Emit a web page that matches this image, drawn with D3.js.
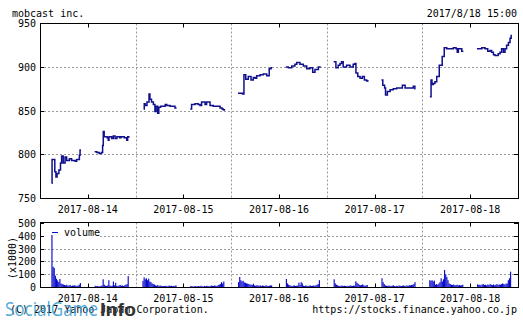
<!DOCTYPE html>
<html>
<head>
<meta charset="utf-8">
<script src="https://cdn.jsdelivr.net/npm/d3@7"></script>
<style>
body { margin: 0; background: #fff; }
text { font-family: "DejaVu Sans Mono", monospace; font-size: 10px; fill: #000; }
</style>
</head>
<body>
<svg id="chart" width="523" height="322"></svg>
<script>
// trading days and tick labels
const days = ["2017-08-14", "2017-08-15", "2017-08-16", "2017-08-17", "2017-08-18"];
const priceTicks = [750, 800, 850, 900, 950];
const volTicks = [0, 100, 200, 300, 400, 500];

// price, morning session per day [time, yen]
const priceAm = [
  [["09:21",767],["09:23",794],["09:35",780],["09:40",774],["09:45",778],["09:53",782],["10:00",790],["10:05",798],["10:12",790],["10:20",797],["10:27",793],["10:39",795],["10:49",793],["11:04",792],["11:11",794],["11:23",799],["11:26",805],["11:30",805]],
  [["09:05",852],["09:08",858],["09:12",856],["09:20",860],["09:29",869],["09:33",863],["09:40",860],["09:48",857],["09:55",849],["10:00",855],["10:07",847],["10:12",854],["10:20",855],["10:32",855],["10:40",857],["10:47",856],["11:01",855],["11:16",855],["11:23",853],["11:30",853]],
  [["09:00",870],["09:20",869],["09:26",891],["09:34",886],["09:45",889],["09:57",885],["10:07",888],["10:15",887],["10:22",890],["10:37",891],["10:51",892],["11:06",890],["11:17",898],["11:25",899],["11:30",899]],
  [["09:00",906],["09:10",899],["09:20",902],["09:28",904],["09:35",906],["09:42",900],["09:57",902],["10:12",900],["10:26",903],["10:34",904],["10:38",893],["10:46",889],["10:56",887],["11:06",889],["11:15",885],["11:25",884],["11:30",885]],
  [["09:03",866],["09:08",885],["09:12",880],["09:18",881],["09:25",883],["09:33",889],["09:44",902],["09:52",902],["09:57",912],["10:06",922],["10:17",921],["10:31",921],["10:46",922],["10:58",921],["11:03",917],["11:08",921],["11:23",918],["11:30",918]]
];
// price, afternoon session per day
const pricePm = [
  [["12:30",803],["12:40",802],["12:50",801],["13:00",802],["13:05",810],["13:08",826],["13:12",820],["13:25",819],["13:30",816],["13:33",820],["13:45",818],["13:52",821],["14:00",818],["14:08",820],["14:20",819],["14:26",820],["14:40",819],["14:51",816],["14:55",820],["15:00",819]],
  [["12:30",852],["12:36",857],["12:51",858],["13:05",857],["13:13",856],["13:20",860],["13:35",857],["13:42",860],["13:57",856],["14:11",855],["14:26",855],["14:41",853],["14:50",852],["14:55",851],["15:00",850]],
  [["12:30",900],["12:41",899],["12:56",901],["13:10",903],["13:18",905],["13:32",903],["13:47",901],["14:02",898],["14:16",899],["14:28",894],["14:38",897],["14:53",900],["15:00",899]],
  [["12:30",885],["12:36",879],["12:44",876],["12:48",868],["12:56",872],["13:08",874],["13:22",875],["13:37",876],["13:52",876],["14:02",879],["14:14",876],["14:36",876],["14:50",878],["14:57",875],["15:00",875]],
  [["12:30",921],["12:51",922],["13:05",921],["13:17",918],["13:27",919],["13:34",917],["13:42",914],["13:49",913],["14:03",915],["14:11",917],["14:18",921],["14:26",917],["14:33",921],["14:40",925],["14:48",928],["14:55",933],["15:00",937]]
];

// volume (x1000), 5 minute bars from 09:00 and from 12:30
const volAm = [
  [0,0,0,0,405,160,150,90,66,53,40,64,30,25,22,18,15,20,12,15,18,10,14,12,16,12,10,14,20,33],
  [50,77,62,70,55,67,45,40,30,25,22,15,12,18,10,14,12,10,8,10,12,8,10,14,10,12,8,10,12,15],
  [40,80,55,46,50,38,35,30,28,25,22,20,18,28,15,12,16,14,12,15,10,14,12,10,15,12,10,12,15,14],
  [62,30,20,15,12,10,12,14,10,12,10,8,12,10,15,12,10,14,12,47,35,28,20,15,18,23,15,12,14,18],
  [55,50,55,45,52,20,25,20,30,40,70,45,62,134,100,80,55,30,25,20,18,22,15,18,20,15,18,14,16,20]
];
const volPm = [
  [12,8,10,6,8,10,15,62,20,12,10,15,55,14,10,12,45,15,35,12,10,15,18,12,14,10,16,20,25,87],
  [10,8,6,8,10,6,8,10,8,12,8,6,10,8,12,10,8,10,14,12,10,15,12,10,18,20,25,40,30,45],
  [65,30,20,15,12,10,12,15,10,12,14,36,18,40,30,12,10,14,12,10,12,15,10,12,14,12,16,20,25,55],
  [70,40,25,15,12,10,14,12,10,12,15,10,8,12,10,14,12,10,12,15,10,12,14,12,16,14,18,20,25,40],
  [23,18,20,15,22,25,18,20,15,22,18,25,20,18,22,15,20,25,18,22,20,25,30,25,22,28,30,55,70,121]
];

const svg = d3.select("#chart");
const left = 40, right = 518;
const dayMin = 420; // each day drawn 08:30 - 15:30

function toMin(day, hm) {
  let p = hm.split(":");
  return day * dayMin + (+p[0] * 60 + +p[1]) - 510;
}

const x = d3.scaleLinear().domain([0, days.length * dayMin]).range([left, right]);
const y = d3.scaleLinear().domain([750, 950]).range([198, 23.3]);
const yv = d3.scaleLinear().domain([0, 500]).range([287.3, 222.7]);

function grid(top, bottom, yScale, ticks) {
  const g = svg.append("g");
  // dashed grid
  ticks.slice(1, -1).forEach(t => {
    g.append("line").attr("x1", left).attr("x2", right)
      .attr("y1", Math.round(yScale(t)) + 0.5).attr("y2", Math.round(yScale(t)) + 0.5)
      .attr("stroke", "#999").attr("stroke-dasharray", "2,2");
  });
  for (let d = 1; d < days.length; d++) {
    let xx = Math.round(x(d * dayMin)) + 0.5;
    g.append("line").attr("x1", xx).attr("x2", xx).attr("y1", top).attr("y2", bottom)
      .attr("stroke", "#999").attr("stroke-dasharray", "2,2");
  }
  // inner ticks
  days.forEach((d, i) => {
    let xx = Math.round(x(i * dayMin + 210)) + 0.5;
    g.append("line").attr("x1", xx).attr("x2", xx).attr("y1", top).attr("y2", top + 4).attr("stroke", "#000");
    g.append("line").attr("x1", xx).attr("x2", xx).attr("y1", bottom).attr("y2", bottom - 4).attr("stroke", "#000");
  });
  ticks.forEach(t => {
    let yy = Math.round(yScale(t)) + 0.5;
    g.append("line").attr("x1", left).attr("x2", left + 4).attr("y1", yy).attr("y2", yy).attr("stroke", "#000");
    g.append("line").attr("x1", right).attr("x2", right - 4).attr("y1", yy).attr("y2", yy).attr("stroke", "#000");
    g.append("text").attr("x", 36).attr("y", yScale(t) + 4).attr("text-anchor", "end").text(t);
  });
  // date labels
  days.forEach((d, i) => {
    g.append("text").attr("x", x(i * dayMin + 210)).attr("y", bottom + 14)
      .attr("text-anchor", "middle").text(d);
  });
  return g;
}

// price panel
grid(23.5, 198.5, y, priceTicks);
const line = d3.line().x(d => x(d[0])).y(d => y(d[1])).curve(d3.curveStepAfter);
[priceAm, pricePm].forEach(sessions => {
  sessions.forEach((s, i) => {
    svg.append("path")
      .datum(s.map(p => [toMin(i, p[0]), p[1]]))
      .attr("d", line).attr("fill", "none")
      .attr("stroke", "#10108c").attr("stroke-width", 1.5);
  });
});
svg.append("rect").attr("x", left + 0.5).attr("y", 23.5).attr("width", right - left).attr("height", 175)
  .attr("fill", "none").attr("stroke", "#000");

// volume panel
grid(222.5, 287.5, yv, volTicks);
// legend
svg.append("rect").attr("x", 44).attr("y", 227).attr("width", 56).attr("height", 12).attr("fill", "#fff");
svg.append("line").attr("x1", 52).attr("x2", 58).attr("y1", 232.5).attr("y2", 232.5).attr("stroke", "#0a0acc");
svg.append("text").attr("x", 64).attr("y", 236).text("volume");

const bw = x(5) - x(0);
[[volAm, "09:00"], [volPm, "12:30"]].forEach(([sessions, start]) => {
  sessions.forEach((s, i) => {
    let t0 = toMin(i, start);
    svg.append("g").selectAll("rect").data(s).join("rect")
      .attr("x", (v, j) => x(t0 + j * 5))
      .attr("width", bw)
      .attr("y", v => yv(v))
      .attr("height", v => yv(0) - yv(v))
      .attr("fill", "#0a0acc");
  });
});
svg.append("rect").attr("x", left + 0.5).attr("y", 222.5).attr("width", right - left).attr("height", 65)
  .attr("fill", "none").attr("stroke", "#000");

svg.append("text").attr("transform", "translate(16,258) rotate(-90)")
  .attr("text-anchor", "middle").text("(x1000)");

// header and footer
svg.append("text").attr("x", 12).attr("y", 17).text("mobcast inc.");
svg.append("text").attr("x", 517).attr("y", 17).attr("text-anchor", "end").text("2017/8/18 15:00");
svg.append("text").attr("x", 10).attr("y", 313).text("(C) 2017 Yahoo Japan Corporation.");
svg.append("text").attr("x", 517).attr("y", 313).attr("text-anchor", "end").text("https://stocks.finance.yahoo.co.jp");

// watermark
svg.append("text").attr("x", 5).attr("y", 316)
  .attr("textLength", 93).attr("lengthAdjust", "spacingAndGlyphs")
  .style("font-family", "'Open Sans', 'Liberation Sans', sans-serif").style("font-size", "20px")
  .style("fill", "#3d9fd3").style("fill-opacity", 0.9).text("SocialGame");
svg.append("text").attr("x", 100).attr("y", 316)
  .attr("textLength", 36).attr("lengthAdjust", "spacingAndGlyphs")
  .style("font-family", "'Liberation Sans', Arial, sans-serif").style("font-size", "19px")
  .style("font-weight", "bold").style("fill", "#333").text("Info");
</script>
</body>
</html>
